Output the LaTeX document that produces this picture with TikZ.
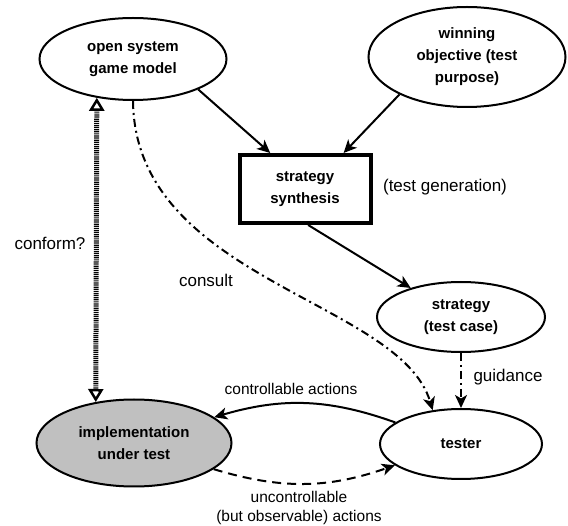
\documentclass[tikz,border=0pt]{standalone}
\usepackage{fontspec}
\setmainfont{Liberation Sans}
\usetikzlibrary{shapes.geometric,arrows.meta}
\definecolor{iutgray}{RGB}{192,192,192}
\begin{document}
\begin{tikzpicture}[x=1pt,y=-1pt,
 ell/.style={ellipse, draw, line width=2pt, inner sep=0pt, align=center, font=\bfseries\fontsize{15}{22}\selectfont},
 arr/.style={line width=2pt, -{Stealth[length=13pt,width=12pt,inset=3.5pt]}},
 lab/.style={font=\fontsize{17}{20}\selectfont, inner sep=0pt},
 smalllab/.style={font=\fontsize{15.5}{19}\selectfont, inner sep=0pt, align=center},
 dashdot/.style={dash pattern=on 8pt off 4pt on 2pt off 4pt},
 conformline/.style={line width=5pt, dash pattern=on 1.2pt off 0.9pt,
   {Triangle[open,length=13pt,width=15pt,line width=2.5pt]}-{Triangle[open,length=13pt,width=15pt,line width=2.5pt]}}]
\useasboundingbox (0,0) rectangle (568,526);
\node[ell, minimum width=187pt, minimum height=82pt] (open) at (133,59) {open system\\game model};
\node[ell, minimum width=197pt, minimum height=100pt] (win) at (467,57) {winning\\objective (test\\purpose)};
\node[draw, line width=4pt, minimum width=131pt, minimum height=68pt, align=center, inner sep=0pt,
      font=\bfseries\fontsize{15}{22}\selectfont] (strat) at (305,189) {strategy\\synthesis};
\node[ell, minimum width=168pt, minimum height=70pt] (strategy) at (461,317) {strategy\\(test case)};
\node[ell, minimum width=162pt, minimum height=70pt] (tester) at (461,444) {tester};
\node[ell, fill=iutgray, minimum width=195pt, minimum height=87pt] (impl) at (134,443) {implementation\\under test};

\node[lab] (gen) at (445,187) {(test generation)};
\node[lab] (conf) at (50,243) {conform?};
\node[lab] (cons) at (206,280) {consult};
\node[lab] (guid) at (508,377) {guidance};
\node[smalllab] (ctrl) at (291,389) {controllable actions};
\node[smalllab] (unctrl) at (299,508) {uncontrollable\\(but observable) actions};

\draw[arr] (open.-25) -- (strat.134);
\draw[arr] (win.209) -- (strat.43);
\draw[arr] (strat.-85) -- (strategy.150);
\draw[arr, dashdot] (open.south) .. controls (135,280) and (400,300) .. (tester.130);
\draw[arr, dashdot] (strategy.south) -- (tester.north);
\draw[arr] (tester) to[bend right=18] (impl);
\draw[arr, dash pattern=on 9pt off 6pt] (impl) to[bend right=18] (tester);
\draw[conformline] (open.-133.5) -- (impl.133);
\end{tikzpicture}
\end{document}
